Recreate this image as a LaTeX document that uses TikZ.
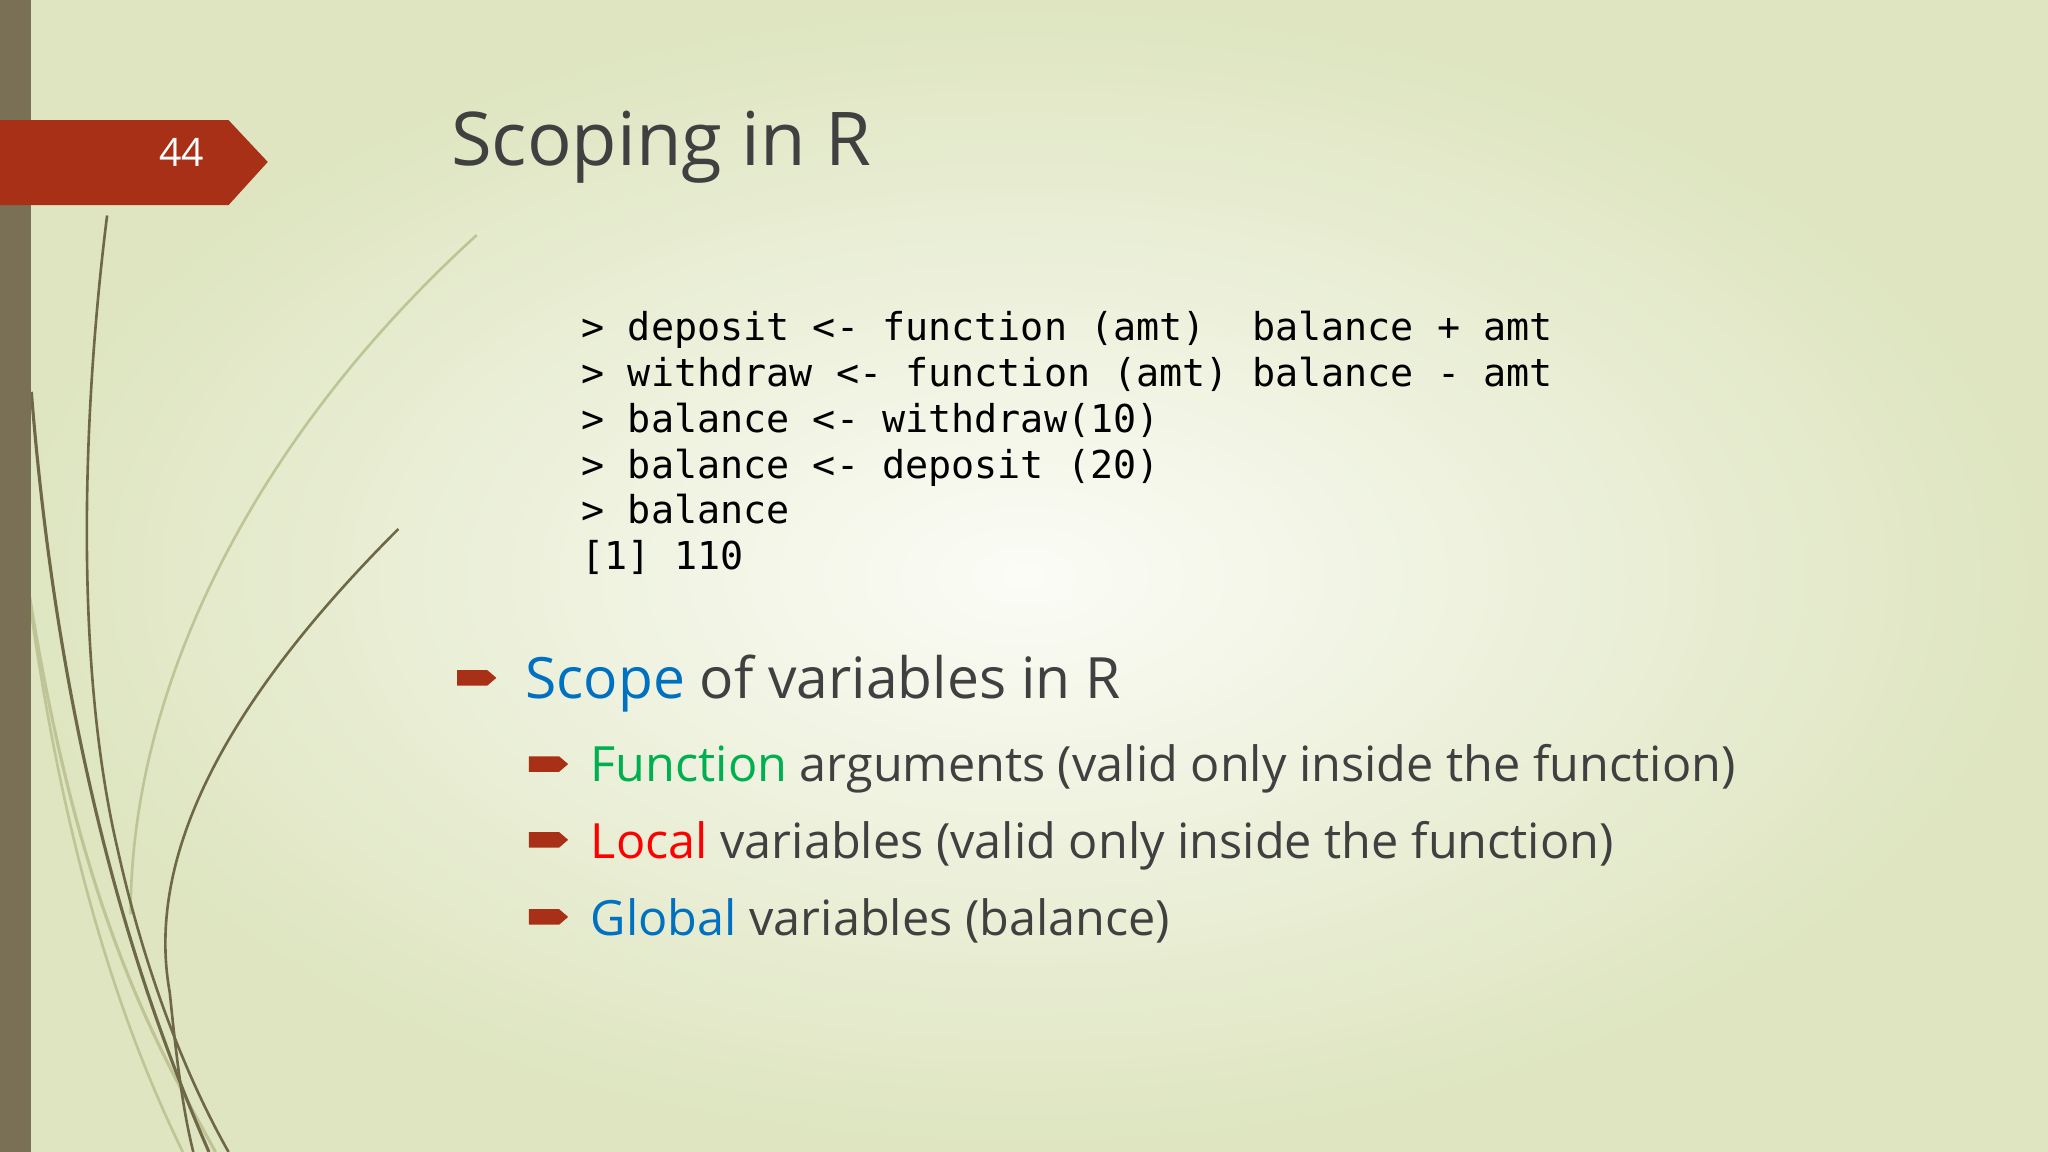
\documentclass[tikz,border=0pt]{standalone}
\usepackage{fontspec}
\setmainfont{Open Sans}
\newfontfamily\codefont{DejaVu Sans Mono}
\definecolor{bgedge}{RGB}{222,229,192}
\definecolor{bgmid}{RGB}{251,252,246}
\definecolor{barc}{RGB}{122,112,86}
\definecolor{tabc}{RGB}{168,48,22}
\definecolor{txt}{RGB}{64,64,64}
\definecolor{sblue}{RGB}{0,112,192}
\definecolor{sgreen}{RGB}{0,176,80}
\definecolor{sred}{RGB}{255,0,0}
\definecolor{curvec}{RGB}{110,104,70}
\definecolor{curvel}{RGB}{190,196,150}
\tikzset{
  code/.style={anchor=base west,inner sep=0pt,font=\codefont\fontsize{14.7}{17}\selectfont,text=black},
  lvlone/.style={anchor=base west,inner sep=0pt,font=\fontsize{21.8}{26}\selectfont,text=txt},
  lvltwo/.style={anchor=base west,inner sep=0pt,font=\fontsize{18.6}{23}\selectfont,text=txt},
}
\newcommand{\bul}[2]{\fill[tabc] (#1-15,#2-6) -- (#1+8,#2-6) -- (#1+15,#2) -- (#1+8,#2+6) -- (#1-15,#2+6) -- cycle;}
\begin{document}
\begin{tikzpicture}[x=0.5pt,y=-0.5pt]
\useasboundingbox (0,0) rectangle (1568,882);
\shade[inner color=bgmid,outer color=bgedge] (0,0) rectangle (1568,882);
% curves
\draw[curvel,line width=1.2pt] (20,440) .. controls (60,700) and (120,800) .. (165,882);
\draw[curvel,line width=1pt] (365,180) .. controls (200,330) and (100,520) .. (100,700);
\draw[curvel,line width=1pt] (24,470) .. controls (50,650) and (90,780) .. (140,882);
\draw[curvec,line width=1pt] (82,165) .. controls (65,300) and (55,500) .. (90,650) .. controls (110,740) and (140,820) .. (175,882);
\draw[curvec,line width=1pt] (305,405) .. controls (180,530) and (110,650) .. (130,760) .. controls (135,810) and (140,850) .. (148,882);
\draw[curvec,line width=1.2pt] (24,300) .. controls (40,500) and (80,700) .. (160,882);
\fill[barc] (0,0) rectangle (24,882);
\fill[tabc] (0,92) -- (175,92) -- (205,124) -- (175,157) -- (0,157) -- cycle;
\node[text=white,font=\fontsize{15}{18}\selectfont] (num) at (139,117) {44};
\node[anchor=base west,inner sep=0pt,font=\fontsize{28.4}{34}\selectfont,text=txt] (title) at (345,127) {Scoping in R};
\node[code] (c1) at (445,261) {> deposit <- function (amt)\ \ balance + amt};
\node[code] (c2) at (445,296) {> withdraw <- function (amt) balance - amt};
\node[code] (c3) at (445,331) {> balance <- withdraw(10)};
\node[code] (c4) at (445,366) {> balance <- deposit (20)};
\node[code] (c5) at (445,401) {> balance};
\node[code] (c6) at (445,436) {[1] 110};
\bul{365}{519}
\node[lvlone] (b1) at (402,535) {\textcolor{sblue}{Scope} of variables in R};
\bul{420}{585}
\node[lvltwo] (b2) at (452,598) {\textcolor{sgreen}{Function} arguments (valid only inside the function)};
\bul{420}{643}
\node[lvltwo] (b3) at (452,657) {\textcolor{sred}{Local} variables (valid only inside the function)};
\bul{420}{702}
\node[lvltwo] (b4) at (452,716) {\textcolor{sblue}{Global} variables (balance)};
\end{tikzpicture}
\end{document}
